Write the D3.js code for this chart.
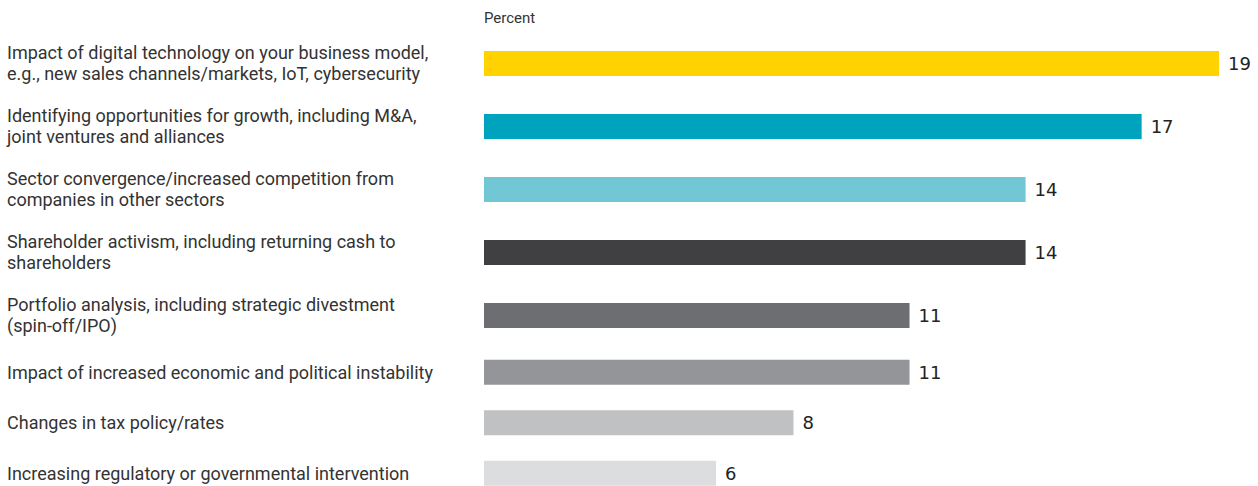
<!DOCTYPE html>
<html>
<head>
<meta charset="utf-8">
<script src="https://cdn.jsdelivr.net/npm/d3@7"></script>
<style>
  html, body { margin: 0; padding: 0; background: #fff; }
  svg { display: block; }
</style>
</head>
<body>
<script>
// Survey answers, one row per topic; "\n" marks a line break in the label
const categories = [
  "Impact of digital technology on your business model,\ne.g., new sales channels/markets, IoT, cybersecurity",
  "Identifying opportunities for growth, including M&A,\njoint ventures and alliances",
  "Sector convergence/increased competition from\ncompanies in other sectors",
  "Shareholder activism, including returning cash to\nshareholders",
  "Portfolio analysis, including strategic divestment\n(spin-off/IPO)",
  "Impact of increased economic and political instability",
  "Changes in tax policy/rates",
  "Increasing regulatory or governmental intervention"
];
const values = [19, 17, 14, 14, 11, 11, 8, 6];
const barColors = ["#FFD200", "#00A3BE", "#72C7D5", "#404042", "#6D6E71", "#939598", "#C0C1C3", "#DCDDDF"];
const unitLabel = "Percent";

const W = 1258, H = 486;
const svg = d3.select("body").append("svg").attr("width", W).attr("height", H);

const rows = categories.map((c, i) => ({ lines: c.split("\n"), value: values[i], color: barColors[i] }));

// Row height grows with the number of label lines
const rowH = n => n > 1 ? 63 : 50.5;
let cy = 63.5;
rows.forEach((r, i) => {
  if (i > 0) cy += (rowH(rows[i - 1].lines.length) + rowH(r.lines.length)) / 2;
  r.cy = cy;
});

const x = d3.scaleLinear().domain([0, 19]).range([484, 1219]);
const barH = 25;
const lineH = 21;

svg.append("text")
  .attr("x", 484).attr("y", 18)
  .attr("dy", "0.35em")
  .attr("font-family", "Roboto, 'Open Sans', sans-serif")
  .attr("font-size", 15)
  .attr("fill", "#333")
  .text(unitLabel);

const g = svg.selectAll("g.row").data(rows).join("g").attr("class", "row");

g.append("rect")
  .attr("x", x(0))
  .attr("y", d => d.cy - barH / 2)
  .attr("width", d => x(d.value) - x(0))
  .attr("height", barH)
  .attr("fill", d => d.color);

g.append("text")
  .attr("x", d => x(d.value) + 9)
  .attr("y", d => d.cy)
  .attr("dy", "0.36em")
  .attr("font-family", "'DejaVu Sans', Verdana, sans-serif")
  .attr("font-size", 18)
  .attr("fill", "#222")
  .text(d => d.value);

const lbl = g.append("text")
  .attr("font-family", "Roboto, 'Open Sans', sans-serif")
  .attr("font-size", 18)
  .attr("fill", "#333");

lbl.selectAll("tspan").data(d => d.lines.map((t, k) => ({ t, k, n: d.lines.length, cy: d.cy })))
  .join("tspan")
  .attr("x", 7)
  .attr("y", d => d.cy + (d.k - (d.n - 1) / 2) * lineH)
  .attr("dy", "0.35em")
  .text(d => d.t);
</script>
</body>
</html>
